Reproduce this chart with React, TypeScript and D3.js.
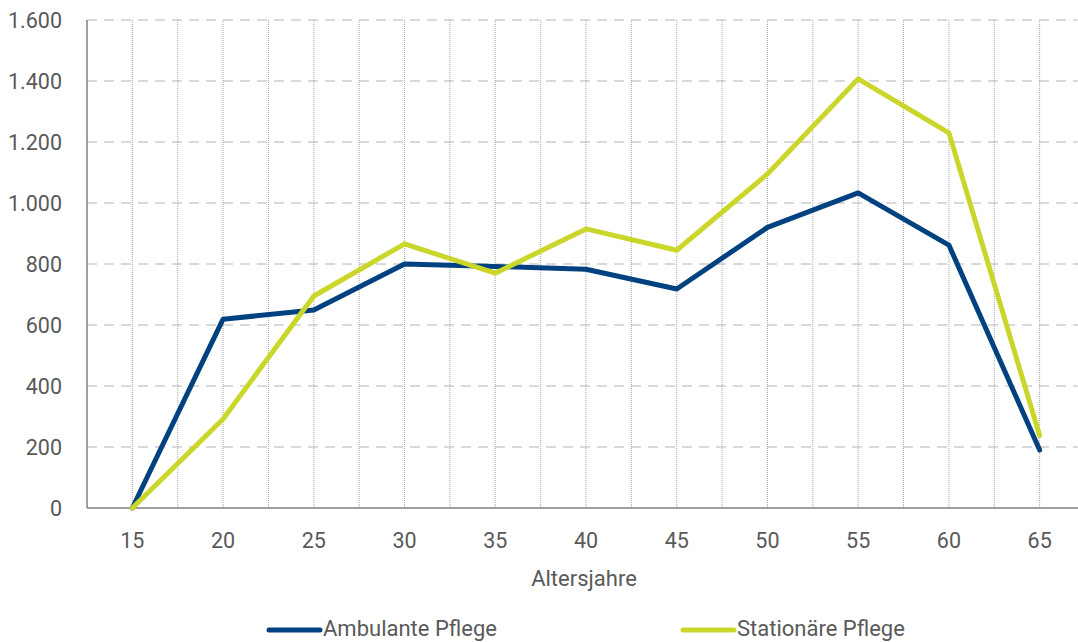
import React from "react";
import * as d3 from "d3";

const ages = [15, 20, 25, 30, 35, 40, 45, 50, 55, 60, 65];
const ambulante = [0, 619, 649, 800, 792, 783, 718, 920, 1033, 862, 190];
const stationaere = [0, 292, 695, 866, 770, 915, 845, 1095, 1407, 1230, 238];
const yTicks = [0, 200, 400, 600, 800, 1000, 1200, 1400, 1600];
const seriesNames = ["Ambulante Pflege", "Stationäre Pflege"];
const colors = ["#00427f", "#cbd62b"];

export default function App() {
  const W = 1078, H = 642;
  const left = 87, right = 1085, top = 20, bottom = 508;
  const x = d3.scaleBand<number>().domain(ages).range([left, right]);
  const cx = (a: number) => (x(a) as number) + x.bandwidth() / 2;
  const y = d3.scaleLinear().domain([0, 1600]).range([bottom, top]);
  const line = d3.line<number>().x((_, i) => cx(ages[i])).y((d) => y(d));
  const fmt = (v: number) => d3.format(",")(v).replace(/,/g, ".");
  const font = "'Source Sans Pro', Roboto, sans-serif";
  const half = x.bandwidth() / 2;
  const vLines: number[] = [];
  for (let i = 0; i < ages.length * 2; i++) vLines.push(cx(ages[0]) + i * half);
  const series = [ambulante, stationaere];
  const legendX = [267, 681];

  return (
    <svg width={W} height={H} style={{ position: "absolute", left: 0, top: 0 }} fontFamily={font}>
      <rect width={W} height={H} fill="#fff" />
      {yTicks.filter((t) => t > 0).map((t) => (
        <line key={t} x1={left} x2={W} y1={y(t)} y2={y(t)} stroke="#d9d9d9" strokeWidth={2} strokeDasharray="10,7" />
      ))}
      {vLines.filter((v) => v < W).map((v, i) => (
        <line key={i} x1={v} x2={v} y1={top} y2={bottom} stroke="#a6a6a6" strokeWidth={1} strokeDasharray="1,1" />
      ))}
      <line x1={left} x2={left} y1={top} y2={bottom} stroke="#808080" strokeWidth={1.5} />
      <line x1={left} x2={W} y1={bottom} y2={bottom} stroke="#808080" strokeWidth={1.5} />
      {yTicks.map((t) => (
        <text key={t} x={62} y={y(t) + 7.5} textAnchor="end" fontSize={21.5} fill="#595959">{fmt(t)}</text>
      ))}
      {ages.map((a) => (
        <text key={a} x={cx(a)} y={548} textAnchor="middle" fontSize={21.5} fill="#595959">{a}</text>
      ))}
      <text x={584} y={586} textAnchor="middle" fontSize={22} fill="#595959">Altersjahre</text>
      {series.map((s, i) => (
        <path key={i} d={line(s) || ""} fill="none" stroke={colors[i]} strokeWidth={5} strokeLinejoin="round" strokeLinecap="round" />
      ))}
      {seriesNames.map((n, i) => (
        <g key={n}>
          <line x1={legendX[i] + 2} x2={legendX[i] + 53} y1={630} y2={630} stroke={colors[i]} strokeWidth={5} strokeLinecap="round" />
          <text x={legendX[i] + 56} y={636} fontSize={22} fill="#595959">{n}</text>
        </g>
      ))}
    </svg>
  );
}
